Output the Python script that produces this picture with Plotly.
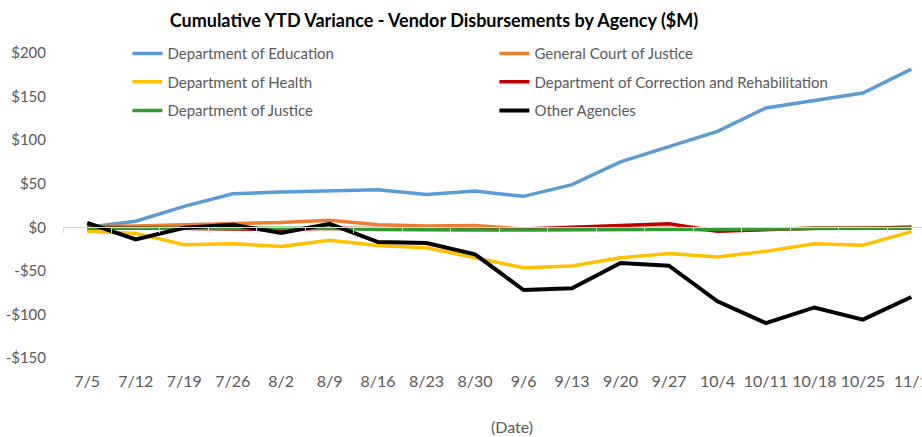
import plotly.graph_objects as go

dates = ["7/5", "7/12", "7/19", "7/26", "8/2", "8/9", "8/16", "8/23", "8/30", "9/6",
         "9/13", "9/20", "9/27", "10/4", "10/11", "10/18", "10/25", "11/1"]

education = [0, 7, 24, 38.5, 40.5, 41.5, 43, 37.5, 41.5, 35.5, 49, 75, 93, 110, 137, 146, 154, 181.5]
court_justice = [1, 1.5, 3, 4, 5.5, 8, 3, 1.5, 2, -2, -2, -2, -1, -4, -2.5, -1, -1, 0]
health = [-4.5, -7, -20, -19, -22, -15, -21, -23.5, -35, -46.5, -44.5, -35, -30, -34, -27.5, -19, -20.5, -5]
correction = [0, -0.5, -1, -1.5, -2.5, -1, -2, -2, -2, -2, 0, 1.5, 4, -4.5, -3, -1, -1, 0]
justice = [-1, -1, -1, -1, -1.5, -1, -2.5, -3, -3, -3, -3, -3, -2, -2.5, -2, -1.5, -1.5, -1]
other = [5, -14, -0.5, 3, -6.5, 4, -17, -18, -31, -72, -70, -41, -44, -85, -110, -92, -106, -80]

y_tick_vals = [200, 150, 100, 50, 0, -50, -100, -150]
y_tick_text = ["$200", "$150", "$100", "$50", "$0", "-$50", "-$100", "-$150"]

title_text = "Cumulative YTD Variance - Vendor Disbursements by Agency ($M)"
x_title = "(Date)"

FONT = "Lato, 'Open Sans', sans-serif"
GRAY = "#595959"

series = [
    ("Department of Education", education, "#5B9BD5", "legend"),
    ("General Court of Justice", court_justice, "#ED7D31", "legend"),
    ("Department of Health", health, "#FFC000", "legend2"),
    ("Department of Correction and Rehabilitation", correction, "#C00000", "legend2"),
    ("Department of Justice", justice, "#339933", "legend3"),
    ("Other Agencies", other, "#000000", "legend3"),
]

idx = list(range(len(dates)))

fig = go.Figure()
for name, vals, color, leg in series:
    fig.add_trace(go.Scatter(
        x=idx, y=vals, name=name, mode="lines",
        line=dict(color=color, width=3.5 if color != "#000000" else 4),
        legend=leg,
    ))

# invisible trace to drive the axis line at zero with tick marks
fig.add_trace(go.Scatter(x=[idx[0]], y=[0], xaxis="x2", mode="markers",
                         marker=dict(opacity=0), showlegend=False, hoverinfo="skip"))

xr = [-0.5, 17.22]
leg_common = dict(orientation="h", entrywidth=322, entrywidthmode="pixels",
                  font=dict(family=FONT, size=15, color=GRAY), bgcolor="rgba(0,0,0,0)",
                  x=0.075, xanchor="left", yanchor="middle", itemwidth=30,
                  tracegroupgap=0)

fig.update_layout(
    width=922, height=437,
    margin=dict(l=63, r=0, t=53, b=79, autoexpand=False),
    paper_bgcolor="white", plot_bgcolor="white",
    title=dict(text="<b>" + title_text + "</b>", x=434 / 922, xanchor="center",
               y=1 - 21 / 437, yanchor="middle",
               font=dict(family=FONT, size=18, color="#000000")),
    xaxis=dict(range=xr, tickmode="array", tickvals=idx, ticktext=dates,
               showgrid=False, zeroline=False, showline=False, ticks="",
               tickfont=dict(family=FONT, size=16, color=GRAY),
               ticklabelstandoff=12, ticklabeloverflow="allow"),
    xaxis2=dict(range=xr, overlaying="x", anchor="free", position=(358.3 - 227.7) / 305,
                side="bottom", showline=True, linecolor="#D9D9D9", linewidth=1,
                tickmode="array", tickvals=[i - 0.5 for i in idx] + [idx[-1] + 0.5],
                ticks="outside", ticklen=5, tickcolor="#D9D9D9", showticklabels=False,
                showgrid=False, zeroline=False),
    yaxis=dict(range=[-150, 200], tickmode="array", tickvals=y_tick_vals, ticktext=y_tick_text,
               showgrid=False, zeroline=False, showline=False, ticks="",
               tickfont=dict(family=FONT, size=15, color=GRAY), ticklabelstandoff=16),
    legend=dict(**leg_common, y=(358.3 - 54) / 305),
    legend2=dict(**leg_common, y=(358.3 - 82.3) / 305),
    legend3=dict(**leg_common, y=(358.3 - 111) / 305),
    annotations=[dict(text=x_title, xref="paper", yref="paper", x=(512 - 63) / 859,
                      y=(358.3 - 427) / 305, xanchor="center", yanchor="middle",
                      showarrow=False, font=dict(family=FONT, size=16, color=GRAY))],
)

fig.write_html("out.html", config={"displayModeBar": False},
               post_script="document.body.style.margin='0';")
